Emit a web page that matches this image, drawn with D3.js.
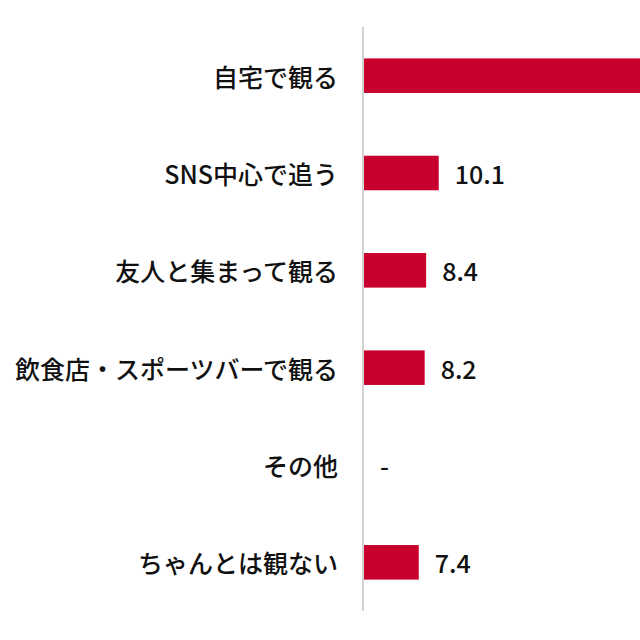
<!DOCTYPE html>
<html><head><meta charset="utf-8">
<script src="https://cdn.jsdelivr.net/npm/d3@7"></script>
<style>html,body{margin:0;padding:0;background:#fff;}</style>
</head><body>
<svg id="c" width="640" height="640"></svg>
<script>
const categories = ["自宅で観る","SNS中心で追う","友人と集まって観る","飲食店・スポーツバーで観る","その他","ちゃんとは観ない"];
const values = [63.5, 10.1, 8.4, 8.2, null, 7.4];

const W = 640;
const svg = d3.select("#c");
const font = "'Noto Sans CJK JP','Noto Sans',sans-serif";
const y = d3.scaleBand().domain(categories).range([27, 611]).paddingInner(0.645).paddingOuter(0.3225);
const x = d3.scaleLinear().domain([0, 40]).range([364, 364 + 296]);

const rows = categories.map((c, i) => ({c, v: values[i]}));

svg.selectAll("rect.bar").data(rows.filter(d => d.v != null)).join("rect")
  .attr("class","bar")
  .attr("x", x(0)).attr("y", d => y(d.c))
  .attr("width", d => Math.min(x(d.v), W + 10) - x(0)).attr("height", y.bandwidth())
  .attr("fill", "#c8002d");

svg.append("line").attr("x1", 363).attr("x2", 363).attr("y1", 27).attr("y2", 611)
  .attr("stroke", "#d2d2d2").attr("stroke-width", 2);

svg.selectAll("text.cat").data(rows).join("text")
  .attr("class","cat")
  .attr("x", 338).attr("y", d => y(d.c) + y.bandwidth()/2)
  .attr("text-anchor","end").attr("dominant-baseline","central")
  .attr("font-family", font).attr("font-size", 25).attr("font-weight", 500)
  .attr("fill","#111").text(d => d.c);

// value labels (the first one lies beyond the visible frame in the reference, so it is not drawn)
svg.selectAll("text.val").data(rows.filter(d => d.v == null || x(d.v) + 16 < W)).join("text")
  .attr("class","val")
  .attr("x", d => x(d.v == null ? 0 : d.v) + 16).attr("y", d => y(d.c) + y.bandwidth()/2)
  .attr("dominant-baseline","central")
  .attr("font-family", font).attr("font-size", 25).attr("font-weight", 500)
  .attr("fill","#111").text(d => d.v == null ? "-" : d.v.toFixed(1));
</script>
</body></html>
